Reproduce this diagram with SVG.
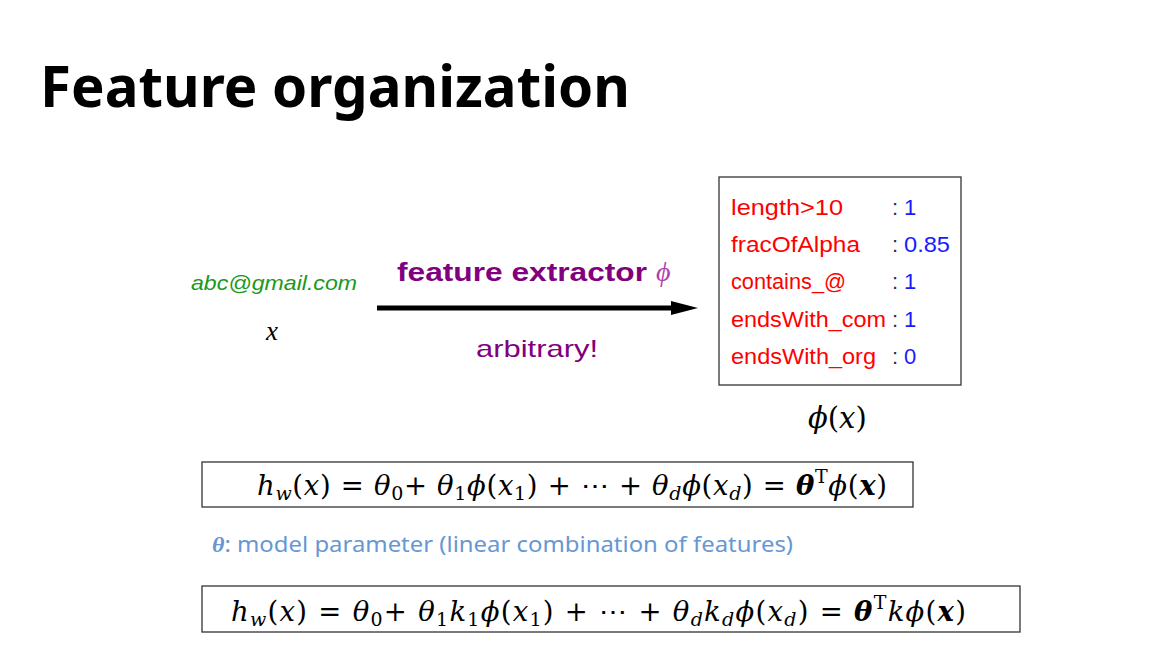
<svg xmlns="http://www.w3.org/2000/svg" width="1170" height="656" viewBox="0 0 1170 656">
<style>
.title{font-family:"Noto Sans","Liberation Sans",sans-serif;font-weight:bold;font-size:58px;fill:#000}
.cm{font-family:"Liberation Sans","DejaVu Sans",sans-serif}
.feat{font-size:22px;fill:#ff0000}
.val{font-size:22px;fill:#1a1aff}
.col{font-size:22px;fill:#333}
.math{font-family:"Liberation Serif","DejaVu Serif",serif;font-size:30px;fill:#000}
.eq{font-family:"DejaVu Serif","Liberation Serif",serif;font-size:27.5px;fill:#000}
.it{font-style:italic}
.bi{font-style:italic;font-weight:bold}
.box{fill:none;stroke:#333;stroke-width:1.3}
.note{font-family:"Noto Sans","Liberation Sans",sans-serif;font-size:22px;fill:#6797d3}
</style>
<defs>
<marker id="ah" markerUnits="userSpaceOnUse" markerWidth="30" markerHeight="20" refX="2" refY="8" orient="auto">
<polygon points="0,1 27,8 0,15" fill="#000"/>
</marker>
</defs>
<rect width="1170" height="656" fill="#fff"/>
<text class="title" x="40" y="107" textLength="590" lengthAdjust="spacingAndGlyphs">Feature organization</text>

<g id="connectors">
<line x1="377" y1="308" x2="673" y2="308" stroke="#000" stroke-width="5" marker-end="url(#ah)"/>
</g>

<g id="input">
<text class="cm" x="191" y="290" font-size="21" font-style="italic" fill="#1a9a1a" textLength="166" lengthAdjust="spacingAndGlyphs">abc@gmail.com</text>
<text class="math it" x="266" y="340" style="font-size:27px">x</text>
</g>

<g id="extractor-label">
<text class="cm" x="397" y="281" font-size="25" font-weight="bold" fill="#800080" textLength="250" lengthAdjust="spacingAndGlyphs">feature extractor</text>
<text class="math it" x="656" y="281" style="font-size:28px;fill:#b040b0">ϕ</text>
<text class="cm" x="476" y="357" font-size="24" fill="#800080" textLength="122" lengthAdjust="spacingAndGlyphs">arbitrary!</text>
</g>

<g id="feature-box">
<rect class="box" x="719" y="177" width="242" height="208"/>
<text class="cm feat" x="731" y="215" textLength="112" lengthAdjust="spacingAndGlyphs">length&gt;10</text>
<text class="cm feat" x="731" y="252" textLength="129" lengthAdjust="spacingAndGlyphs">fracOfAlpha</text>
<text class="cm feat" x="731" y="289" textLength="115" lengthAdjust="spacingAndGlyphs">contains_@</text>
<text class="cm feat" x="731" y="327" textLength="155" lengthAdjust="spacingAndGlyphs">endsWith_com</text>
<text class="cm feat" x="731" y="364" textLength="145" lengthAdjust="spacingAndGlyphs">endsWith_org</text>
<text class="cm col" x="892" y="215">:</text>
<text class="cm col" x="892" y="252">:</text>
<text class="cm col" x="892" y="289">:</text>
<text class="cm col" x="892" y="327">:</text>
<text class="cm col" x="892" y="364">:</text>
<text class="cm val" x="904" y="215">1</text>
<text class="cm val" x="904" y="252" textLength="46" lengthAdjust="spacingAndGlyphs">0.85</text>
<text class="cm val" x="904" y="289">1</text>
<text class="cm val" x="904" y="327">1</text>
<text class="cm val" x="904" y="364">0</text>
<text class="eq" x="808" y="428" style="font-size:29px"><tspan class="it">ϕ</tspan>(<tspan class="it">x</tspan>)</text>
</g>

<g id="equation-1">
<rect class="box" x="202" y="462" width="711" height="45"/>
<text class="eq" x="257" y="495" textLength="630" lengthAdjust="spacing"><tspan class="it">h</tspan><tspan class="it" font-size="19" dy="5">w</tspan><tspan dy="-5">(</tspan><tspan class="it">x</tspan>) = <tspan class="it">θ</tspan><tspan font-size="19" dy="5">0</tspan><tspan dy="-5">+ </tspan><tspan class="it">θ</tspan><tspan font-size="19" dy="5">1</tspan><tspan class="it" dy="-5">ϕ</tspan>(<tspan class="it">x</tspan><tspan font-size="19" dy="5">1</tspan><tspan dy="-5">) + ⋯ + </tspan><tspan class="it">θ</tspan><tspan class="it" font-size="19" dy="5">d</tspan><tspan class="it" dy="-5">ϕ</tspan>(<tspan class="it">x</tspan><tspan class="it" font-size="19" dy="5">d</tspan><tspan dy="-5">) = </tspan><tspan class="bi">θ</tspan><tspan font-size="19" dy="-12">T</tspan><tspan class="it" dy="12">ϕ</tspan>(<tspan class="bi">x</tspan>)</text>
</g>

<g id="note">
<text class="note" x="212" y="552" textLength="581" lengthAdjust="spacingAndGlyphs"><tspan font-family="Liberation Serif,serif" font-style="italic" font-weight="bold">θ</tspan>: model parameter (linear combination of features)</text>
</g>

<g id="equation-2">
<rect class="box" x="202" y="586" width="818" height="46"/>
<text class="eq" x="231" y="621" textLength="735" lengthAdjust="spacing"><tspan class="it">h</tspan><tspan class="it" font-size="19" dy="5">w</tspan><tspan dy="-5">(</tspan><tspan class="it">x</tspan>) = <tspan class="it">θ</tspan><tspan font-size="19" dy="5">0</tspan><tspan dy="-5">+ </tspan><tspan class="it">θ</tspan><tspan font-size="19" dy="5">1</tspan><tspan class="it" dy="-5">k</tspan><tspan font-size="19" dy="5">1</tspan><tspan class="it" dy="-5">ϕ</tspan>(<tspan class="it">x</tspan><tspan font-size="19" dy="5">1</tspan><tspan dy="-5">) + ⋯ + </tspan><tspan class="it">θ</tspan><tspan class="it" font-size="19" dy="5">d</tspan><tspan class="it" dy="-5">k</tspan><tspan class="it" font-size="19" dy="5">d</tspan><tspan class="it" dy="-5">ϕ</tspan>(<tspan class="it">x</tspan><tspan class="it" font-size="19" dy="5">d</tspan><tspan dy="-5">) = </tspan><tspan class="bi">θ</tspan><tspan font-size="19" dy="-12">T</tspan><tspan class="it" dy="12">kϕ</tspan>(<tspan class="bi">x</tspan>)</text>
</g>
</svg>
